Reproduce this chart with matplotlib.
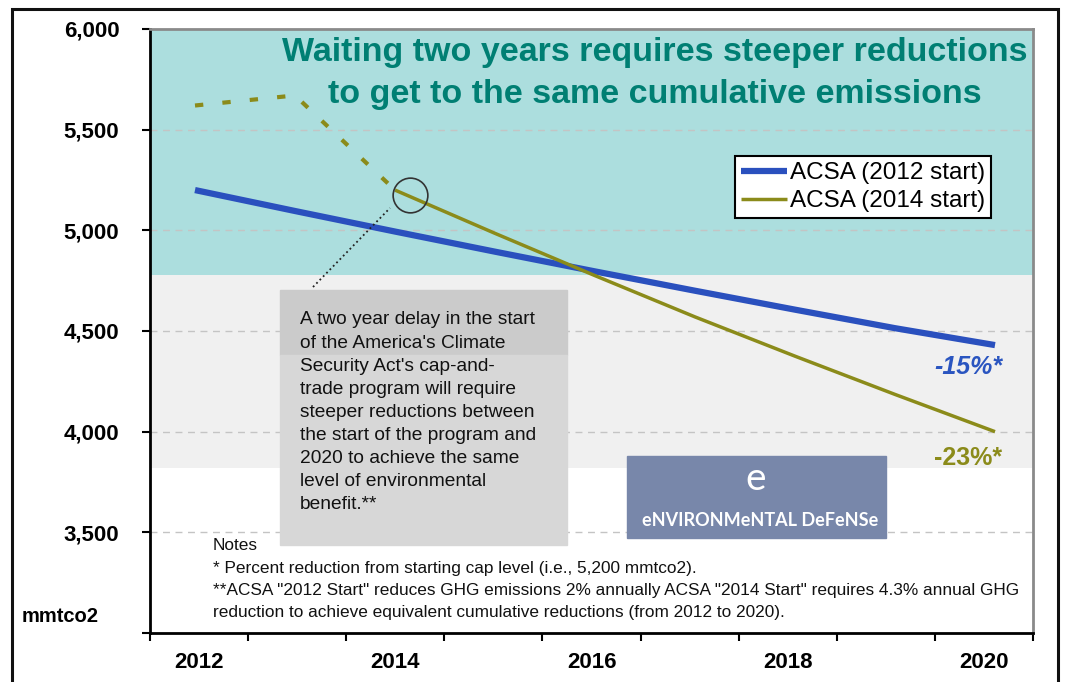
import numpy as np
import matplotlib
matplotlib.use('Agg')
import matplotlib.pyplot as plt
from matplotlib.patches import Rectangle
from matplotlib.lines import Line2D
from matplotlib.transforms import offset_copy

plt.rcParams['font.family'] = ['Liberation Sans', 'DejaVu Sans']

# data (mmtco2)
years_2012 = [2012, 2013, 2014, 2015, 2016, 2017, 2018, 2019, 2020]
acsa_2012 = [5200, 5096, 4994, 4894, 4796, 4700, 4606, 4514, 4430]
years_pre = [2012, 2013, 2014]
pre_2014 = [5620, 5670, 5200]
years_2014 = [2014, 2015, 2016, 2017, 2018, 2019, 2020]
acsa_2014 = [5200, 4985, 4775, 4570, 4375, 4185, 4000]
year_labels = ['2012', '', '2014', '', '2016', '', '2018', '', '2020']
y_ticks = [3000, 3500, 4000, 4500, 5000, 5500, 6000]

W, H = 1073, 682
BLUE = '#2a50be'
OLIVE = '#8b8b1a'
TEAL = '#007f73'


def px(x, y):
    return x / W, 1 - y / H


fig = plt.figure(figsize=(W / 100, H / 100), dpi=100)
ax = fig.add_axes([150 / W, 1 - 633 / H, 883 / W, 604 / H])
x0, x1 = 2011.55, 2020.38
ax.set_xlim(x0, x1)
ax.set_ylim(3000, 6000)

# background bands
ax.axhspan(4780, 6000, color='#acdede', zorder=0, lw=0)
ax.axhspan(3820, 4780, color='#f0f0f0', zorder=0, lw=0)

# grey note box (two tones)
fig.add_artist(Rectangle(px(280, 355), 287 / W, 65 / H, color='#cbcbcb', zorder=1.2))
fig.add_artist(Rectangle(px(280, 545), 287 / W, 190 / H, color='#d7d7d7', zorder=1.2))

for v in y_ticks[1:-1]:
    ax.axhline(v, color='#c4c4c4', lw=1, dashes=(5, 4), zorder=1)

l1, = ax.plot(years_2012, acsa_2012, color=BLUE, lw=4.5, zorder=4,
              label='ACSA (2012 start)', solid_capstyle='butt')
ax.plot(years_pre, pre_2014, color=OLIVE, lw=3, dashes=(2, 4.6), zorder=4,
        dash_capstyle='butt')
l2, = ax.plot(years_2014, acsa_2014, color=OLIVE, lw=2.5, zorder=5,
              label='ACSA (2014 start)', solid_capstyle='butt')

# circle round the 2014 start point
ax.plot(years_2014[0], acsa_2014[0], 'o', ms=25, mfc='none', mec='#333333', mew=1.2,
        zorder=6, transform=offset_copy(ax.transData, fig, x=15, y=-5, units='dots'))
fig.add_artist(Line2D([313 / W, 390 / W], [1 - 287 / H, 1 - 208 / H], color='#222222',
                      lw=1.3, ls=':', zorder=6))

# axes styling
for s in ['left', 'bottom']:
    ax.spines[s].set_color('black')
    ax.spines[s].set_linewidth(2)
for s in ['top', 'right']:
    ax.spines[s].set_color('#8a8a8a')
    ax.spines[s].set_linewidth(2)
ax.set_yticks(y_ticks)
ax.set_yticklabels(['' if v == 3000 else f'{v:,}' for v in y_ticks],
                   fontsize=16, fontweight='bold')
ax.tick_params(axis='y', direction='out', length=6, width=1.5, pad=16)
bounds = np.linspace(x0, x1, 10)
ax.set_xticks(bounds)
ax.set_xticklabels([])
ax.set_xticks((bounds[:-1] + bounds[1:]) / 2, minor=True)
ax.set_xticklabels(year_labels, minor=True, fontsize=16, fontweight='bold')
ax.tick_params(axis='x', which='major', direction='out', length=6, width=1.5)
ax.tick_params(axis='x', which='minor', length=0, pad=14)

leg = ax.legend(handles=[l1, l2], loc='upper right', bbox_to_anchor=px(991, 156),
                bbox_transform=fig.transFigure, fontsize=17.5, frameon=True, fancybox=False,
                edgecolor='black', framealpha=1, borderpad=0.25, labelspacing=0.25,
                handlelength=1.9, handletextpad=0.1, borderaxespad=0)
leg.get_frame().set_linewidth(1.5)
leg.set_zorder(7)

# title
fig.text(*px(655, 52), 'Waiting two years requires steeper reductions', ha='center', va='center',
         fontsize=24.5, fontweight='bold', color=TEAL, zorder=8)
fig.text(*px(655, 95), 'to get to the same cumulative emissions', ha='center', va='center',
         fontsize=24.5, fontweight='bold', color=TEAL, zorder=8)

box_lines = ['A two year delay in the start', "of the America's Climate",
             "Security Act's cap-and-", 'trade program will require',
             'steeper reductions between', 'the start of the program and',
             '2020 to achieve the same', 'level of environmental', 'benefit.**']
for i, t in enumerate(box_lines):
    fig.text(*px(300, 320 + i * 23.1), t, ha='left', va='center', fontsize=13.8,
             color='#111111', zorder=8)

notes = ['Notes', '* Percent reduction from starting cap level (i.e., 5,200 mmtco2).',
         '**ACSA "2012 Start" reduces GHG emissions 2% annually ACSA "2014 Start" requires 4.3% annual GHG',
         'reduction to achieve equivalent cumulative reductions (from 2012 to 2020).']
for i, t in enumerate(notes):
    fig.text(*px(213, 546 + i * 22), t, ha='left', va='center', fontsize=12.4,
             color='#111111', zorder=8)

fig.text(*px(968, 367), '-15%*', ha='center', va='center', fontsize=18, fontweight='bold',
         style='italic', color='#2a55c0', zorder=8)
fig.text(*px(968, 458), '-23%*', ha='center', va='center', fontsize=18, fontweight='bold',
         color=OLIVE, zorder=8)

# logo
fig.add_artist(Rectangle(px(627, 538), 259 / W, 82 / H, color='#7887aa', zorder=7))
fig.text(*px(756, 479), 'e', ha='center', va='center', fontsize=28, color='white',
         family='Lato', zorder=8)
fig.text(*px(760, 520), 'eNVIRONMeNTAL DeFeNSe', ha='center', va='center', fontsize=13,
         color='white', family='Lato', fontweight='bold', zorder=8)

fig.text(*px(60, 617), 'mmtco2', ha='center', va='center', fontsize=14.5, fontweight='bold')

# outer frame
fig.add_artist(Rectangle((12 / W, -0.1), 1046 / W, 1.1 - 9 / H, fill=False,
                         edgecolor='#111111', lw=2.2, zorder=9))

fig.savefig('out.png', dpi=100)
